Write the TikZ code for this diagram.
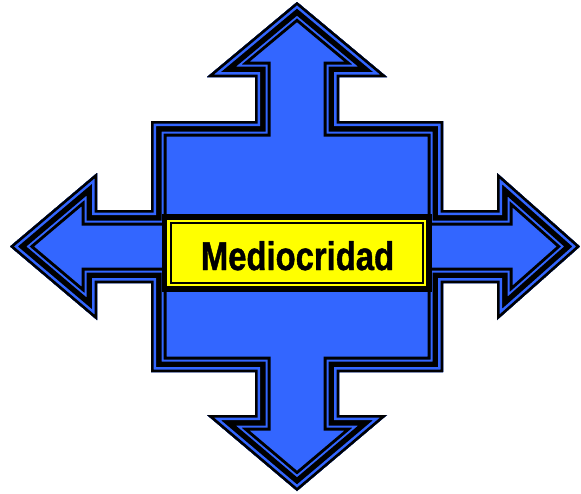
\documentclass[tikz,border=0pt]{standalone}
\usepackage{fontspec}
\setmainfont{Liberation Sans}
\definecolor{arrowblue}{HTML}{3366FF}
\definecolor{labelyellow}{HTML}{FFFF00}
\tikzset{
  crosspath/.style={insert path={(297,2) -- (387,77) -- (339,77) -- (339,121) -- (443,121) -- (443,210) -- (497,210) -- (497,173) -- (580,246.5) -- (497,320) -- (497,283) -- (443,283) -- (443,372) -- (339,372) -- (339,415) -- (387,415) -- (297,491) -- (207,415) -- (255,415) -- (255,372) -- (151,372) -- (151,283) -- (97,283) -- (97,320) -- (10,246.5) -- (97,173) -- (97,210) -- (151,210) -- (151,121) -- (255,121) -- (255,77) -- (207,77) -- cycle}},
  band/.style={line join=miter, miter limit=10},
  frameouter/.style={fill=black, inner sep=0pt, minimum width=270.5pt, minimum height=78pt},
  frameyellow/.style={fill=labelyellow, inner sep=0pt, minimum width=259pt, minimum height=66pt},
  frameline/.style={draw=black, line width=2pt, inner sep=0pt, minimum width=252pt, minimum height=60pt},
  labeltext/.style={inner sep=0pt, anchor=base, font=\fontsize{40}{40}\selectfont\bfseries\addfontfeature{FakeBold=1.2}}
}
\begin{document}
\begin{tikzpicture}[x=1pt, y=-1pt]
\useasboundingbox (0,0) rectangle (581,493);
\begin{scope}
  \clip[crosspath];
  \fill[arrowblue, crosspath];
  \draw[band, black, line width=31pt, crosspath];
  \draw[band, arrowblue, line width=25pt, crosspath];
  \draw[band, black, line width=21pt, crosspath];
  \draw[band, arrowblue, line width=10pt, crosspath];
  \draw[band, black, line width=5pt, crosspath];
\end{scope}
\node[frameouter] (frame) at (296.75,253) {};
\node[frameyellow] (inner) at (frame.center) {};
\node[frameline] (rim) at (297,253) {};
\node[labeltext] (label) at (297.5,270) {\scalebox{0.82}[1]{Mediocridad}};
\end{tikzpicture}
\end{document}
